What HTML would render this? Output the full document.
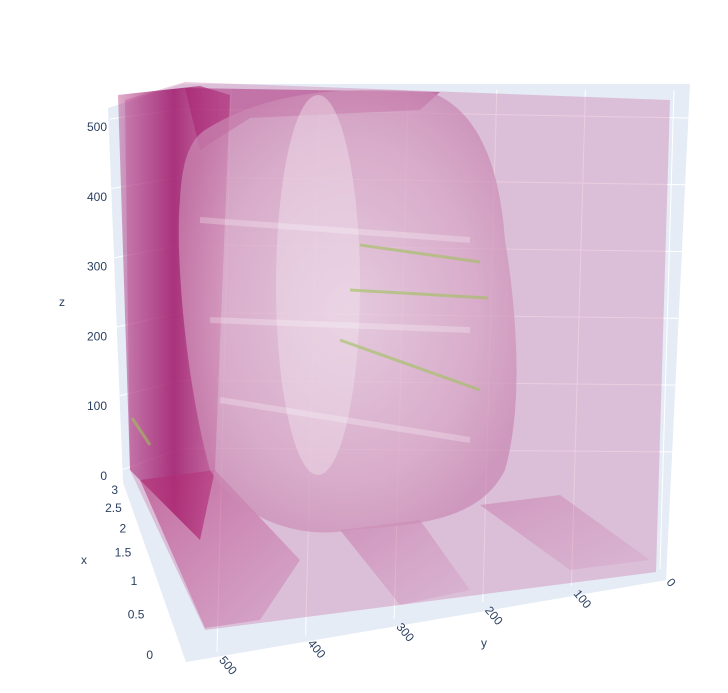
<!DOCTYPE html>
<html><head><meta charset="utf-8"><style>
html,body{margin:0;padding:0;background:#fff;width:728px;height:693px;overflow:hidden}
svg{display:block;font-family:"Liberation Sans",sans-serif}
text{fill:#2a3f5f;font-size:12px}
</style></head><body>
<svg width="728" height="693" viewBox="0 0 728 693">
<defs>
<linearGradient id="leftStreak" x1="0" y1="0" x2="1" y2="0">
<stop offset="0" stop-color="#a3136a" stop-opacity="0.35"/>
<stop offset="0.5" stop-color="#9c0f64" stop-opacity="0.8"/>
<stop offset="1" stop-color="#b5347d" stop-opacity="0.5"/>
</linearGradient>
<radialGradient id="blob" cx="0.5" cy="0.5" r="0.55">
<stop offset="0" stop-color="#e9cfe0"/>
<stop offset="0.7" stop-color="#d7a4c4"/>
<stop offset="1" stop-color="#c988b2"/>
</radialGradient>
<linearGradient id="floorStreak" x1="0" y1="0" x2="1" y2="1">
<stop offset="0" stop-color="#b0256f" stop-opacity="0.55"/>
<stop offset="1" stop-color="#c04d8f" stop-opacity="0.2"/>
</linearGradient>
</defs>
<g>
<polygon points="108,108 182,84 186,662 123,482" fill="#e5ecf6"/>
<polygon points="182,84 690,84 666,580 186,662" fill="#e5ecf6"/>
<polygon points="123,482 186,662 666,580 560,510" fill="#e5ecf6"/>
</g>
<g id="grid" stroke="#fff" stroke-width="1" fill="none"></g>
<g>
<polygon points="125,100 185,82 670,100 656,572 205,630 130,470" fill="#c76aa0" fill-opacity="0.34"/>
<polygon points="118,95 200,86 230,95 215,470 200,540 130,470" fill="url(#leftStreak)"/>
<polygon points="185,88 440,92 420,110 250,118 200,150" fill="#a3166a" fill-opacity="0.45"/>
<polygon points="140,480 215,470 300,560 260,620 205,628" fill="url(#floorStreak)"/>
<polygon points="340,530 420,520 470,590 400,605" fill="url(#floorStreak)" fill-opacity="0.5"/>
<polygon points="480,505 560,495 650,560 570,570" fill="url(#floorStreak)" fill-opacity="0.45"/>
<path d="M205,130 C260,95 330,85 430,92 C480,110 500,170 505,240 C515,300 525,400 505,470 C480,520 420,525 350,530 C300,540 240,520 210,470 C185,380 175,250 180,200 C182,160 190,140 205,130 Z" fill="url(#blob)" fill-opacity="0.7"/>
<ellipse cx="318" cy="285" rx="42" ry="190" fill="#f0dfea" fill-opacity="0.45"/>
<g stroke="#9fc25a" stroke-opacity="0.6" stroke-width="3">
<line x1="360" y1="245" x2="480" y2="262"/>
<line x1="350" y1="290" x2="488" y2="298"/>
<line x1="340" y1="340" x2="480" y2="390"/>
<line x1="132" y1="418" x2="150" y2="445"/>
</g>
<g stroke="#fff" stroke-opacity="0.25" stroke-width="6">
<line x1="200" y1="220" x2="470" y2="240"/>
<line x1="210" y1="320" x2="470" y2="330"/>
<line x1="220" y1="400" x2="470" y2="440"/>
</g>
</g>
<g id="axes"></g>
<text x="62" y="306" text-anchor="middle" font-size="13">z</text>
<text x="84" y="564" text-anchor="middle" font-size="13">x</text>
<text x="484" y="647" text-anchor="middle" font-size="13">y</text>
</svg>
<script>
const zTicks=[0,100,200,300,400,500];
const xTicks=[0,0.5,1,1.5,2,2.5,3];
const yTicks=[0,100,200,300,400,500];
const NS="http://www.w3.org/2000/svg";
function zScale(v){return 476-v*0.698;}
function xProj(v){const u=1-v/3,w=0.613,f=u*w/(1+(w-1)*u);return {x:118+35*f,y:490+165*f};}
function yProj(v){const u=v/500;return {x:668-443*u,y:585+83*u};}
const axes=document.getElementById('axes');
const grid=document.getElementById('grid');
function mk(tag,attrs,txt){const e=document.createElementNS(NS,tag);for(const k in attrs)e.setAttribute(k,attrs[k]);if(txt!==undefined)e.textContent=txt;return e;}
zTicks.forEach(v=>{
 const t=mk('text',{x:107,y:zScale(v)+4,'text-anchor':'end'},String(v));
 
 
 axes.appendChild(t);
 const y=zScale(v)-8;
 const l=mk('polyline',{points:`110,${y+(v===0?6:0)} 183,${y-20+v*0.02} 688,${y-16+v*0.03}`});
 
 
 grid.appendChild(l);
});
xTicks.forEach(v=>{
 const p=xProj(v);
 const t=mk('text',{x:p.x,y:p.y+4,'text-anchor':'end'},String(v));
 
 
 axes.appendChild(t);
});
yTicks.forEach(v=>{
 const p=yProj(v);
 const t=mk('text',{x:p.x,y:p.y,transform:`rotate(50 ${p.x} ${p.y})`,'text-anchor':'middle'},String(v));
 
 
 axes.appendChild(t);
 const l=mk('line',{x1:p.x-8,y1:p.y-16,x2:p.x+6,y2:90});
 
 
 grid.appendChild(l);
});
</script>
</body></html>
